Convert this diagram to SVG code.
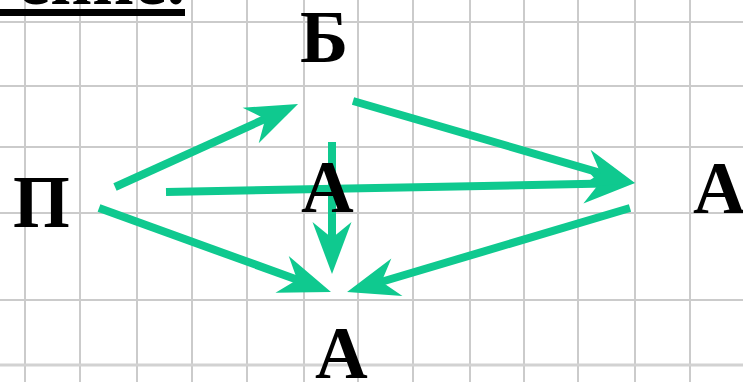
<svg xmlns="http://www.w3.org/2000/svg" width="743" height="382" viewBox="0 0 743 382">
<style>
.grid line{stroke:#cbcbcb;stroke-width:2}
.conn line{stroke:#0fc98f;stroke-width:8;fill:none}
.lbl{font-family:"Liberation Serif","Times New Roman",serif;font-weight:bold;font-size:73px;fill:#000}
</style>
<defs>
<marker id="ah" markerUnits="userSpaceOnUse" orient="auto" refX="0" refY="0" markerWidth="60" markerHeight="40" overflow="visible">
<path d="M30,0 L-22,-19.5 L-6,0 L-22,19.5 Z" fill="#0fc98f"/>
</marker>
</defs>
<rect width="743" height="382" fill="#fff"/>
<g class="grid">
<line x1="25" y1="0" x2="25" y2="382"/><line x1="80" y1="0" x2="80" y2="382"/><line x1="137" y1="0" x2="137" y2="382"/><line x1="192" y1="0" x2="192" y2="382"/><line x1="247" y1="0" x2="247" y2="382"/><line x1="304" y1="0" x2="304" y2="382"/><line x1="358" y1="0" x2="358" y2="382"/><line x1="413" y1="0" x2="413" y2="382"/><line x1="470" y1="0" x2="470" y2="382"/><line x1="524" y1="0" x2="524" y2="382"/><line x1="578" y1="0" x2="578" y2="382"/><line x1="635" y1="0" x2="635" y2="382"/><line x1="690" y1="0" x2="690" y2="382"/>
<line x1="0" y1="22" x2="743" y2="22"/><line x1="0" y1="86" x2="743" y2="86"/><line x1="0" y1="147" x2="743" y2="147"/><line x1="0" y1="213" x2="743" y2="213"/><line x1="0" y1="300" x2="743" y2="300"/><line x1="0" y1="365" x2="743" y2="365" style="stroke-width:3;stroke:#d2d2d2"/>
</g>
<g id="title">
<text class="lbl" x="185" y="4" text-anchor="end">ение.</text>
<rect x="0" y="9" width="185" height="7" fill="#000"/>
</g>
<g class="conn">
<line x1="115" y1="187" x2="270.7" y2="116.4" marker-end="url(#ah)"/>
<line x1="166" y1="192" x2="605" y2="183.6" marker-end="url(#ah)"/>
<line x1="353" y1="101" x2="606.2" y2="174.6" marker-end="url(#ah)"/>
<line x1="630" y1="208" x2="375.8" y2="283.5" marker-end="url(#ah)"/>
<line x1="99" y1="208" x2="302.8" y2="281.8" marker-end="url(#ah)"/>
<line x1="332" y1="142" x2="332" y2="244" marker-end="url(#ah)"/>
</g>
<g id="nB"><text class="lbl" x="300" y="62">Б</text></g>
<g id="nP"><text class="lbl" x="13" y="227">П</text></g>
<g id="nA1"><text class="lbl" x="301" y="212">А</text></g>
<g id="nA2"><text class="lbl" x="693" y="213">А</text></g>
<g id="nA3"><text class="lbl" x="315" y="378">А</text></g>
</svg>
